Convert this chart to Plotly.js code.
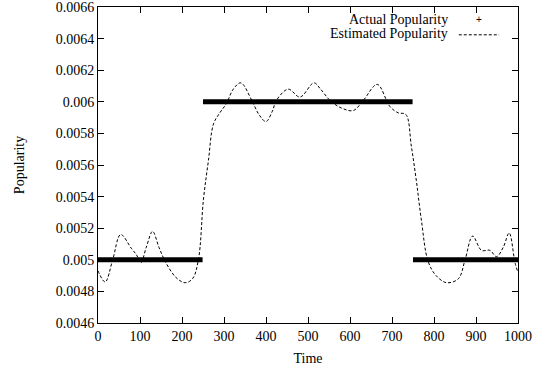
<!DOCTYPE html>
<html>
<head>
<meta charset="utf-8">
<script src="https://cdn.plot.ly/plotly-3.0.1.min.js"></script>
<style>html,body{margin:0;padding:0;background:#fff;}#chart{width:538px;height:372px;}</style>
</head>
<body>
<div id="chart"></div>
<script>
// Actual popularity: three constant segments (null separates them)
const actualTime = [0, 249, null, 250, 749, null, 750, 1000];
const actualPop  = [0.005, 0.005, null, 0.006, 0.006, null, 0.005, 0.005];

// Estimated popularity
const estTime = [0, 17, 35, 54, 80, 92, 102, 115, 130, 145, 160, 185, 207, 225, 239, 251, 263, 275, 290, 306, 322, 340, 366, 383, 400, 415, 425, 453, 481, 514, 530, 552, 580, 608, 632, 665, 695, 715, 733, 746, 758, 770, 786, 805, 830, 858, 874, 892, 913, 933, 949, 965, 979, 993, 1000];
const estPop  = [0.00493, 0.00486, 0.00500, 0.00516, 0.00507, 0.00503, 0.00498, 0.00508, 0.00518, 0.00508, 0.00499, 0.00489, 0.004855, 0.00488, 0.00500, 0.00538, 0.00563, 0.00586, 0.00593, 0.00599, 0.00608, 0.00612, 0.00601, 0.00592, 0.005875, 0.00594, 0.00601, 0.00608, 0.00603, 0.00612, 0.00608, 0.00601, 0.00596, 0.005945, 0.00601, 0.00611, 0.00597, 0.00593, 0.00592, 0.00572, 0.00550, 0.00525, 0.00499, 0.00490, 0.004855, 0.00488, 0.00500, 0.00515, 0.00506, 0.00506, 0.00502, 0.00508, 0.00517, 0.00498, 0.00492];

const xTickVals = [0, 100, 200, 300, 400, 500, 600, 700, 800, 900, 1000];
const yTickVals = [0.0046, 0.0048, 0.005, 0.0052, 0.0054, 0.0056, 0.0058, 0.006, 0.0062, 0.0064, 0.0066];
const yTickText = ["0.0046", "0.0048", "0.005", "0.0052", "0.0054", "0.0056", "0.0058", "0.006", "0.0062", "0.0064", "0.0066"];
const legendLabels = ["Actual Popularity", "Estimated Popularity"];

const font = {family: "'Liberation Serif', serif", size: 14, color: "#000000", weight: "normal"};

const traces = [
  {x: estTime, y: estPop, mode: "lines", line: {color: "#000", width: 1, dash: "3px,2px", shape: "spline", smoothing: 1}, showlegend: false, hoverinfo: "skip"},
  {x: actualTime, y: actualPop, mode: "lines", line: {color: "#000", width: 5}, connectgaps: false, showlegend: false, hoverinfo: "skip"}
];

const axisCommon = {
  showline: true, linecolor: "#000", linewidth: 1, mirror: "ticks",
  ticks: "inside", ticklen: 6, tickcolor: "#000", tickwidth: 1,
  showgrid: false, zeroline: false, tickfont: font, ticklabeloverflow: "allow"
};

const layout = {
  width: 538, height: 372,
  margin: {l: 98, r: 20, t: 7, b: 49},
  paper_bgcolor: "#fff", plot_bgcolor: "#fff",
  font: font,
  showlegend: false,
  xaxis: Object.assign({}, axisCommon, {
    range: [0, 1000], tickmode: "array", tickvals: xTickVals,
    title: {text: "Time", font: font, standoff: 10}
  }),
  yaxis: Object.assign({}, axisCommon, {
    range: [0.0046, 0.00660001], tickmode: "array", tickvals: yTickVals, ticktext: yTickText,
    title: {text: "Popularity", font: font, standoff: 27}
  }),
  annotations: [
    {xref: "paper", yref: "paper", x: 0.838, y: 0.96, xanchor: "right", yanchor: "middle", text: legendLabels[0], showarrow: false, font: font},
    {xref: "paper", yref: "paper", x: 0.838, y: 0.915, xanchor: "right", yanchor: "middle", text: legendLabels[1], showarrow: false, font: font},
    {xref: "paper", yref: "paper", x: 0.907, y: 0.962, xanchor: "center", yanchor: "middle", text: "+", showarrow: false, font: {family: "'Liberation Sans', sans-serif", size: 10, color: "#000000"}}
  ],
  shapes: [
    {type: "line", xref: "paper", yref: "paper", x0: 0.859, x1: 0.955, y0: 0.912, y1: 0.912, line: {color: "#000", width: 1, dash: "3px,2px"}}
  ]
};

Plotly.newPlot("chart", traces, layout, {displayModeBar: false, staticPlot: true});
</script>
</body>
</html>
